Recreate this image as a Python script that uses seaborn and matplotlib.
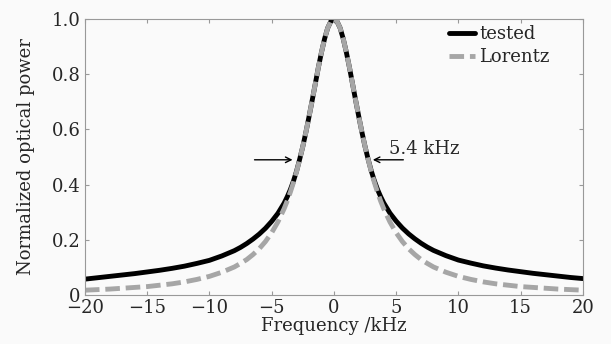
import matplotlib
matplotlib.use("Agg")
import matplotlib.pyplot as plt
import pandas as pd
import seaborn as sns

# values
freq = [-20, -19, -18, -17, -16, -15, -14, -13, -12, -11, -10, -9, -8, -7.5, -7,
        -6.5, -6, -5.5, -5, -4.5, -4, -3.75, -3.5, -3.25, -3, -2.75, -2.5, -2.25,
        -2, -1.75, -1.5, -1.25, -1, -0.75, -0.5, -0.25,
        0, 0.25, 0.5, 0.75, 1, 1.25, 1.5, 1.75, 2, 2.25, 2.5, 2.75, 3, 3.25, 3.5,
        3.75, 4, 4.5, 5, 5.5, 6, 6.5, 7, 7.5, 8, 9, 10, 11, 12, 13, 14, 15, 16,
        17, 18, 19, 20]
tested = [0.058, 0.063, 0.068, 0.073, 0.078, 0.084, 0.090, 0.097, 0.105, 0.115,
          0.126, 0.142, 0.161, 0.173, 0.187, 0.203, 0.221, 0.242, 0.267, 0.296,
          0.333, 0.356, 0.382, 0.413, 0.449, 0.492, 0.538, 0.590, 0.646, 0.704,
          0.764, 0.824, 0.879, 0.928, 0.967, 0.991,
          1.000, 0.991, 0.967, 0.928, 0.879, 0.824, 0.764, 0.704, 0.646, 0.590,
          0.538, 0.492, 0.450, 0.414, 0.383, 0.357, 0.334, 0.297, 0.268, 0.243,
          0.222, 0.204, 0.188, 0.174, 0.162, 0.143, 0.127, 0.116, 0.106, 0.098,
          0.091, 0.085, 0.079, 0.074, 0.069, 0.064, 0.060]
lorentz = [0.018, 0.020, 0.022, 0.025, 0.028, 0.031, 0.036, 0.041, 0.048, 0.057,
           0.068, 0.083, 0.102, 0.115, 0.129, 0.147, 0.168, 0.194, 0.226, 0.265,
           0.313, 0.341, 0.373, 0.408, 0.447, 0.491, 0.538, 0.590, 0.646, 0.704,
           0.764, 0.824, 0.879, 0.928, 0.967, 0.991,
           1.000, 0.991, 0.967, 0.928, 0.879, 0.824, 0.764, 0.704, 0.646, 0.590,
           0.538, 0.491, 0.447, 0.408, 0.373, 0.341, 0.313, 0.265, 0.226, 0.194,
           0.168, 0.147, 0.129, 0.115, 0.102, 0.083, 0.068, 0.057, 0.048, 0.041,
           0.036, 0.031, 0.028, 0.025, 0.022, 0.020, 0.018]
x_ticks = [-20, -15, -10, -5, 0, 5, 10, 15, 20]
y_ticks = [0, 0.2, 0.4, 0.6, 0.8, 1.0]
y_ticklabels = ["0", "0.2", "0.4", "0.6", "0.8", "1.0"]

sns.set_style("ticks")
plt.rcParams['font.family'] = ['DejaVu Serif']
plt.rcParams['mathtext.fontset'] = 'dejavuserif'

df = pd.DataFrame({'freq': freq + freq,
                   'power': tested + lorentz,
                   'curve': ['tested'] * len(freq) + ['Lorentz'] * len(freq)})

fig = plt.figure(figsize=(6.11, 3.44), dpi=100, facecolor='#fafafa')
ax = fig.add_axes([0.139, 0.142, 0.815, 0.803])
ax.set_facecolor('#fafafa')

sns.lineplot(data=df[df.curve == 'tested'], x='freq', y='power', ax=ax,
             color='black', linewidth=3.5, label='tested', sort=False)
sns.lineplot(data=df[df.curve == 'Lorentz'], x='freq', y='power', ax=ax,
             color='#a6a6a6', linewidth=3.5, label='Lorentz', sort=False)
ax.lines[1].set_dashes([3, 1.2])

ax.set_xlim(-20, 20)
ax.set_ylim(0, 1)
ax.set_xticks(x_ticks)
ax.set_yticks(y_ticks)
ax.set_yticklabels(y_ticklabels)
ax.tick_params(direction='in', top=True, right=True, length=3, color='#999999',
               labelsize=13, pad=3)
for s in ax.spines.values():
    s.set_color('#999999')
    s.set_linewidth(0.8)

ax.set_xlabel('Frequency /kHz', fontsize=13, labelpad=0)
ax.set_ylabel('Normalized optical power', fontsize=13, labelpad=12)

#half width arrows
ax.annotate('', xy=(-3.1, 0.49), xytext=(-6.6, 0.49),
            arrowprops=dict(arrowstyle='->', color='black', lw=1))
ax.annotate('', xy=(2.9, 0.49), xytext=(5.8, 0.49),
            arrowprops=dict(arrowstyle='->', color='black', lw=1))
ax.text(4.4, 0.53, '5.4 kHz', fontsize=13, va='center', ha='left')

leg = ax.legend(loc='upper left', frameon=False, fontsize=13, handlelength=1.45,
                handletextpad=0.22, borderpad=0, borderaxespad=0,
                labelspacing=0.3, bbox_to_anchor=(449 / 611, 1 - 25 / 344),
                bbox_transform=fig.transFigure)

fig.savefig('out.png', dpi=100, facecolor=fig.get_facecolor())
